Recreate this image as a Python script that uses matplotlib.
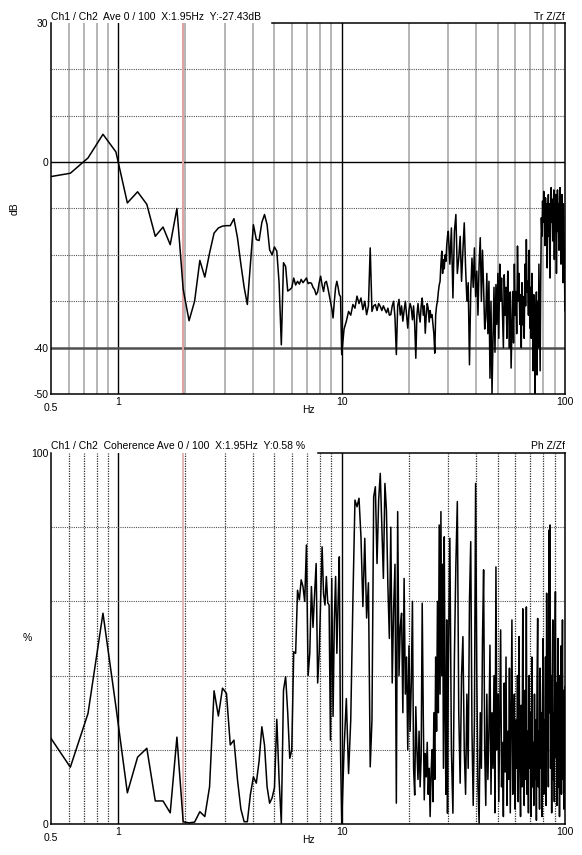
import numpy as np
import matplotlib
matplotlib.use("Agg")
import matplotlib.pyplot as plt
from matplotlib.ticker import NullLocator, NullFormatter

plt.rcParams['font.family'] = ['Liberation Sans', 'DejaVu Sans']
plt.rcParams['font.size'] = 7.5

# analyser bin spacing (Hz) and the bins shown in each band
df = 250 / 2048
low_bins = np.arange(4, 82)        # 0.49 .. 9.9 Hz, every bin
mid_bins = np.arange(82, 245, 2)   # 10 .. 29.8 Hz
high_bins = np.arange(246, 819, 4) # 30 .. 99.9 Hz

cursor_hz = 1.95

# transfer function magnitude, dB
tr_low = [-3.2, -2.4, 0.9, 6.0, 2.2, -8.8, -6.4, -9.1, -16.0, -14.0,
          -17.8, -10.0, -27.4, -34.2, -30.0, -21.2, -24.8, -19.6, -15.3, -14.2,
          -13.8, -13.7, -13.7, -12.2, -16.3, -22.0, -27.0, -30.7, -22.0, -13.5,
          -16.7, -16.9, -13.0, -11.3, -13.5, -18.9, -20.0, -18.3, -19.2, -26.0,
          -39.4, -21.7, -22.5, -27.8, -27.5, -27.1, -25.0, -26.5, -25.7, -26.3,
          -25.3, -26.0, -25.5, -25.0, -26.2, -26.0, -26.1, -27.0, -27.5, -28.6,
          -28.0, -26.0, -24.6, -26.5, -27.9, -26.0, -25.7, -27.0, -28.5, -30.0,
          -31.5, -33.6, -30.0, -27.0, -25.7, -27.0, -28.6, -29.0]
tr_mid = [-41.5, -36.0, -34.3, -32.2, -33.0, -30.7, -31.5, -28.9, -30.5, -29.3,
          -31.8, -30.0, -32.9, -31.0, -18.5, -32.2, -31.0, -30.7, -32.0, -30.5,
          -31.1, -32.0, -31.0, -31.8, -32.5, -31.5, -33.0, -32.9, -31.0, -30.0,
          -33.5, -41.5, -31.0, -29.6, -33.0, -31.0, -34.3, -32.0, -30.0, -33.0,
          -35.8, -32.0, -30.5, -31.5, -34.0, -31.0, -35.0, -42.3, -33.0, -30.5,
          -32.9, -34.5, -31.0, -29.3, -33.0, -31.0, -36.9, -33.0, -30.5, -31.5,
          -34.5, -32.0, -33.5, -32.9, -35.0, -37.0, -41.2, -33.0, -31.0, -30.0,
          -28.0, -26.5, -25.7, -22.0, -19.2, -24.0, -21.0, -23.0, -20.0, -21.4,
          -18.0, -16.0]
tr_high = [-14.9, -22, -14.2, -29.3, -15, -11.3, -24, -20.7, -16, -25.7,
           -19, -13.1, -22.8, -30, -26, -43.7, -28, -20.7, -27, -18.5,
           -29, -23.5, -33, -22, -16.3, -30, -19, -27.1, -36, -33.6,
           -24, -37, -25.7, -46.6, -30, -50, -38, -27, -41, -26.4,
           -35, -24, -38, -22, -30, -25, -32.9, -40, -24.3, -33,
           -27, -38, -23.5, -31, -40.1, -28, -44.4, -36, -27.9, -39,
           -22, -33, -27.9, -37, -18.1, -30, -24, -35, -28.6, -40,
           -26, -35.1, -29, -38, -22, -31, -16.7, -28, -25.7, -33,
           -19, -35.8, -27, -38, -24, -30, -45, -28.6, -36, -50,
           -33, -28, -45.9, -30, -40, -22, -34, -45, -25, -12,
           -16, -8.4, -13, -6.3, -11.3, -18, -7.7, -14, -9, -22.8,
           -12, -7, -16, -9, -25, -11, -5.5, -13, -8, -17,
           -10, -6, -21, -9, -14, -7, -24, -11, -6, -15,
           -9, -19, -8, -5.5, -13, -22, -10, -7, -16, -26,
           -9, -14, -20, -32]

# coherence, %
coh_low = [24.0, 15.3, 29.8, 56.8, 31.6, 8.4, 18.0, 20.4, 6.2, 6.2,
           3.0, 23.4, 0.58, 0.3, 0.5, 3.3, 2.0, 10.0, 35.9, 29.1,
           36.6, 35.2, 21.3, 22.6, 12.0, 4.0, 0.6, 0.6, 8.0, 12.7,
           11.0, 17.0, 26.2, 21.3, 10.0, 5.6, 7.0, 9.8, 28.2, 12.0,
           0.2, 36.1, 39.7, 30.0, 17.7, 19.9, 46.4, 46.0, 63.0, 60.4,
           65.8, 64.0, 60.0, 75.2, 40.0, 46.0, 64.0, 53.0, 62.0, 70.2,
           38.0, 46.0, 60.0, 74.7, 62.0, 59.0, 66.7, 59.6, 59.0, 22.6,
           66.2, 29.0, 55.0, 66.7, 46.0, 60.0, 72.0, 20.0]
coh_mid = [0.2, 20, 33.8, 13.6, 28, 60, 87.3, 85.5, 87.8, 77.4,
           58.6, 77, 55.5, 65, 15.4, 28, 88.2, 90.9, 70.2, 87.3,
           94.5, 80, 66.2, 91.8, 84.6, 64, 50, 80, 38, 58,
           70, 5.6, 84.2, 40, 53.2, 56.8, 30, 66.2, 35, 45,
           20, 48, 25, 38, 60, 15, 7.8, 31.6, 20, 12,
           25, 10, 18, 59.5, 30, 6.5, 19, 12.7, 22, 8,
           15, 2, 14, 20, 6, 30, 12, 45, 25, 60,
           30, 80.6, 35, 84.2, 40, 70, 15, 77.4, 30, 8,
           55, 2.9]
coh_high = [40, 77, 20, 2.9, 45, 70, 86.9, 30, 11, 40,
            50.5, 20, 8, 35, 15, 60, 76.1, 25, 5, 28,
            91.8, 40, 10, 0.2, 30, 15, 50, 68.5, 20, 5,
            35, 12, 25, 48.2, 8, 30, 15, 40, 3, 69.3,
            20, 35, 6, 28, 52.3, 10, 22, 2, 38, 14,
            45, 5, 25, 12, 42, 3, 30, 55, 8, 20,
            35, 4, 28, 15, 40, 6, 50.5, 18, 2, 32,
            10, 58, 22, 5, 36, 12, 58.5, 8, 25, 3,
            40, 15, 30, 2, 45, 10, 22, 5, 35, 12,
            28, 1, 38, 55.4, 10, 25, 4, 42, 15, 30,
            2, 35, 50, 8, 28, 12, 45, 5, 62.2, 20,
            38, 10, 79.2, 30, 80.6, 15, 40, 3, 35, 55,
            12, 30, 6, 45, 62.6, 18, 38, 5, 28, 50,
            10, 33, 2, 40, 15, 48, 8, 30, 55, 12,
            36, 4, 25, 37]

freq = np.concatenate([low_bins, mid_bins, high_bins]) * df
tr_db = np.concatenate([tr_low, tr_mid, tr_high])
coh = np.concatenate([coh_low, coh_mid, coh_high])

minor_hz = [0.6, 0.7, 0.8, 0.9, 2, 3, 4, 5, 6, 7, 8, 9,
            20, 30, 40, 50, 60, 70, 80, 90]
decade_hz = [1, 10]

fig = plt.figure(figsize=(5.82, 8.55), dpi=100)
ax1 = fig.add_axes([0.0876, 0.5392, 0.8832, 0.4339])
ax2 = fig.add_axes([0.0876, 0.0363, 0.8832, 0.4339])


def setup_x(ax):
    ax.set_xscale('log')
    ax.set_xlim(0.5, 100)
    ax.set_xticks([0.5, 1, 10, 100])
    ax.set_xticklabels(['0.5', '1', '10', '100'])
    ax.xaxis.set_minor_locator(NullLocator())
    ax.xaxis.set_minor_formatter(NullFormatter())
    ax.tick_params(length=0, pad=2)
    ax.xaxis.get_major_ticks()[0].set_pad(6.5)
    ax.set_xlabel('Hz', va='top')
    ax.xaxis.set_label_coords(0.5, -0.031)
    ax.spines['top'].set_visible(False)
    for s in ['left', 'bottom', 'right']:
        ax.spines[s].set_linewidth(1.1)


# ---- top: transfer function ----
for f in minor_hz:
    ax1.axvline(f, color='#b0b0b0', lw=1.3, zorder=1)
for f in decade_hz:
    ax1.axvline(f, color='k', lw=1, zorder=1)
for y in [20, 10, -10, -20, -30]:
    ax1.axhline(y, color='#555555', lw=0.8, dashes=(1, 1), zorder=1)
ax1.axhline(0, color='k', lw=1, zorder=1)
ax1.axhline(-40, color='#505050', lw=1.8, zorder=1)
ax1.axvline(cursor_hz, color='#e0a2a2', lw=1.5, zorder=1.5)
ax1.plot(freq, tr_db, color='k', lw=1.1, zorder=3)
ax1.set_ylim(-50, 30)
ax1.set_yticks([30, 0, -40, -50])
ax1.set_yticklabels(['30', '0', '-40', '-50'])
setup_x(ax1)
ax1.axhline(30, xmin=0.43, xmax=1, color='k', lw=1.1, clip_on=False)
ax1.text(0.0, 1.004, 'Ch1 / Ch2  Ave 0 / 100  X:1.95Hz  Y:-27.43dB',
         transform=ax1.transAxes, ha='left', va='bottom')
ax1.text(1.0, 1.004, 'Tr Z/Zf', transform=ax1.transAxes, ha='right', va='bottom')
ax1.text(-0.07, 0.5, 'dB', transform=ax1.transAxes, rotation=90,
         ha='center', va='center')

# ---- bottom: coherence ----
for f in minor_hz:
    ax2.axvline(f, color='#303030', lw=0.9, dashes=(1, 1), zorder=1)
for f in decade_hz:
    ax2.axvline(f, color='k', lw=1, zorder=1)
for y in [20, 40, 60, 80]:
    ax2.axhline(y, color='#555555', lw=0.8, dashes=(1, 1), zorder=1)
ax2.axvline(cursor_hz, color='#e4b0b0', lw=1.3, zorder=1.5)
ax2.plot(freq, coh, color='k', lw=1.1, zorder=3)
ax2.set_ylim(0, 100)
ax2.set_yticks([100, 0])
ax2.set_yticklabels(['100', '0'])
setup_x(ax2)
ax2.axhline(100, xmin=0.519, xmax=1, color='k', lw=1.1, clip_on=False)
ax2.text(0.0, 1.004, 'Ch1 / Ch2  Coherence Ave 0 / 100  X:1.95Hz  Y:0.58 %',
         transform=ax2.transAxes, ha='left', va='bottom')
ax2.text(1.0, 1.004, 'Ph Z/Zf', transform=ax2.transAxes, ha='right', va='bottom')
ax2.text(-0.047, 0.5, '%', transform=ax2.transAxes, ha='center', va='center')

fig.savefig('out.png', dpi=100)
